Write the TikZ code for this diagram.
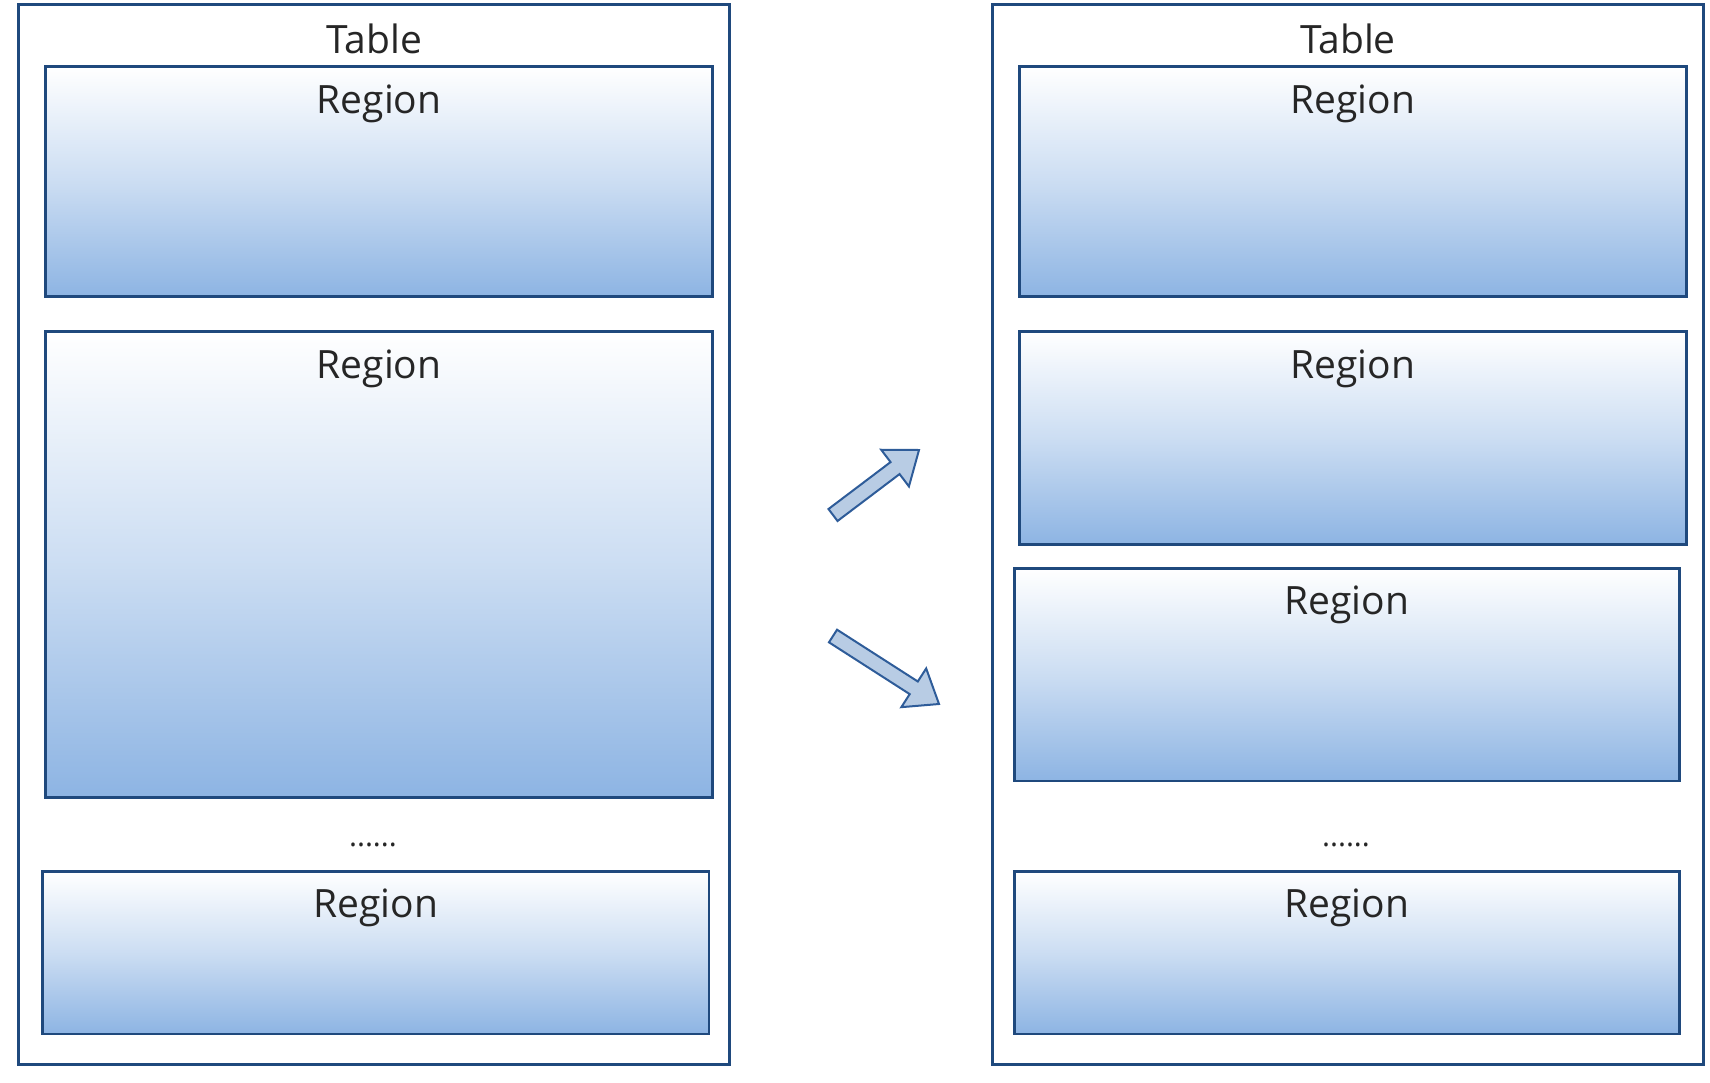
\documentclass[tikz,border=0pt]{standalone}
\usepackage{fontspec}
\setmainfont{Open Sans}
\usetikzlibrary{calc}
\definecolor{bordc}{RGB}{31,73,125}
\definecolor{shadebot}{RGB}{141,180,227}
\definecolor{txtc}{RGB}{38,38,38}
\definecolor{arrfill}{RGB}{184,204,228}
\definecolor{arrline}{RGB}{46,92,153}
\tikzset{
  tablebox/.style={draw=bordc, line width=2.8pt, fill=white, inner sep=0pt, outer sep=0pt, anchor=north west},
  regionbox/.style={draw=bordc, line width=2.8pt, top color=white, bottom color=shadebot, middle color=shadebot!45!white, inner sep=0pt, outer sep=0pt, anchor=north west},
  lbl/.style={text=txtc, font=\fontsize{39}{42}\selectfont, inner sep=0pt, anchor=base},
  dotlbl/.style={text=txtc, font=\fontsize{30}{32}\selectfont, inner sep=0pt, anchor=base},
  blockarrow/.style={fill=arrfill, draw=arrline, line width=2pt, line join=miter}
}
\begin{document}
\begin{tikzpicture}[x=1pt,y=-1pt]
\useasboundingbox (0,0) rectangle (1710,1082);
% left table
\node[tablebox, minimum width=711.1pt, minimum height=1060pt] (LT) at (18.5,4.4) {};
\node[lbl] (LTt) at ($(LT.north)+(0,48.6)$) {Table};
\node[regionbox, minimum width=666.4pt, minimum height=230.1pt] (L1) at (45.8,66.5) {};
\node[lbl] (L1t) at ($(L1.north)+(0,46.5)$) {Region};
\node[regionbox, minimum width=666.4pt, minimum height=465.7pt] (L2) at (45.8,331.5) {};
\node[lbl] (L2t) at ($(L2.north)+(0,46.5)$) {Region};
\node[dotlbl] (Ld) at (373,846) {......};
\node[regionbox, minimum width=666.4pt, minimum height=162.5pt] (L3) at (42.5,871.4) {};
\node[lbl] (L3t) at ($(L3.north)+(0,46.5)$) {Region};
% right table
\node[tablebox, minimum width=711.1pt, minimum height=1060pt] (RT) at (992.4,4.4) {};
\node[lbl] (RTt) at ($(RT.north)+(0,48.6)$) {Table};
\node[regionbox, minimum width=666.4pt, minimum height=230.1pt] (R1) at (1019.7,66.5) {};
\node[lbl] (R1t) at ($(R1.north)+(0,46.5)$) {Region};
\node[regionbox, minimum width=666.4pt, minimum height=212.7pt] (R2) at (1019.7,331.5) {};
\node[lbl] (R2t) at ($(R2.north)+(0,46.5)$) {Region};
\node[regionbox, minimum width=665.2pt, minimum height=212.7pt] (R3) at (1014.3,568.2) {};
\node[lbl] (R3t) at ($(R3.north)+(0,46.5)$) {Region};
\node[dotlbl] (Rd) at (1346,846) {......};
\node[regionbox, minimum width=665.2pt, minimum height=162.5pt] (R4) at (1014.3,871.4) {};
\node[lbl] (R4t) at ($(R4.north)+(0,46.5)$) {Region};
% block arrows
\coordinate (a1t) at (833,515);
\coordinate (a1p) at (919,450);
\coordinate (a1b) at ($(a1p)!30pt!(a1t)$);
\draw[blockarrow] ($(a1t)!7.5pt!90:(a1p)$) -- ($(a1b)!7.5pt!-90:(a1t)$) -- ($(a1b)!23pt!-90:(a1t)$) -- (a1p)
  -- ($(a1b)!23pt!90:(a1t)$) -- ($(a1b)!7.5pt!90:(a1t)$) -- ($(a1t)!7.5pt!-90:(a1p)$) -- cycle;
\coordinate (a2t) at (833,636);
\coordinate (a2p) at (939,704);
\coordinate (a2b) at ($(a2p)!30pt!(a2t)$);
\draw[blockarrow] ($(a2t)!7.5pt!90:(a2p)$) -- ($(a2b)!7.5pt!-90:(a2t)$) -- ($(a2b)!23pt!-90:(a2t)$) -- (a2p)
  -- ($(a2b)!23pt!90:(a2t)$) -- ($(a2b)!7.5pt!90:(a2t)$) -- ($(a2t)!7.5pt!-90:(a2p)$) -- cycle;
\end{tikzpicture}
\end{document}
